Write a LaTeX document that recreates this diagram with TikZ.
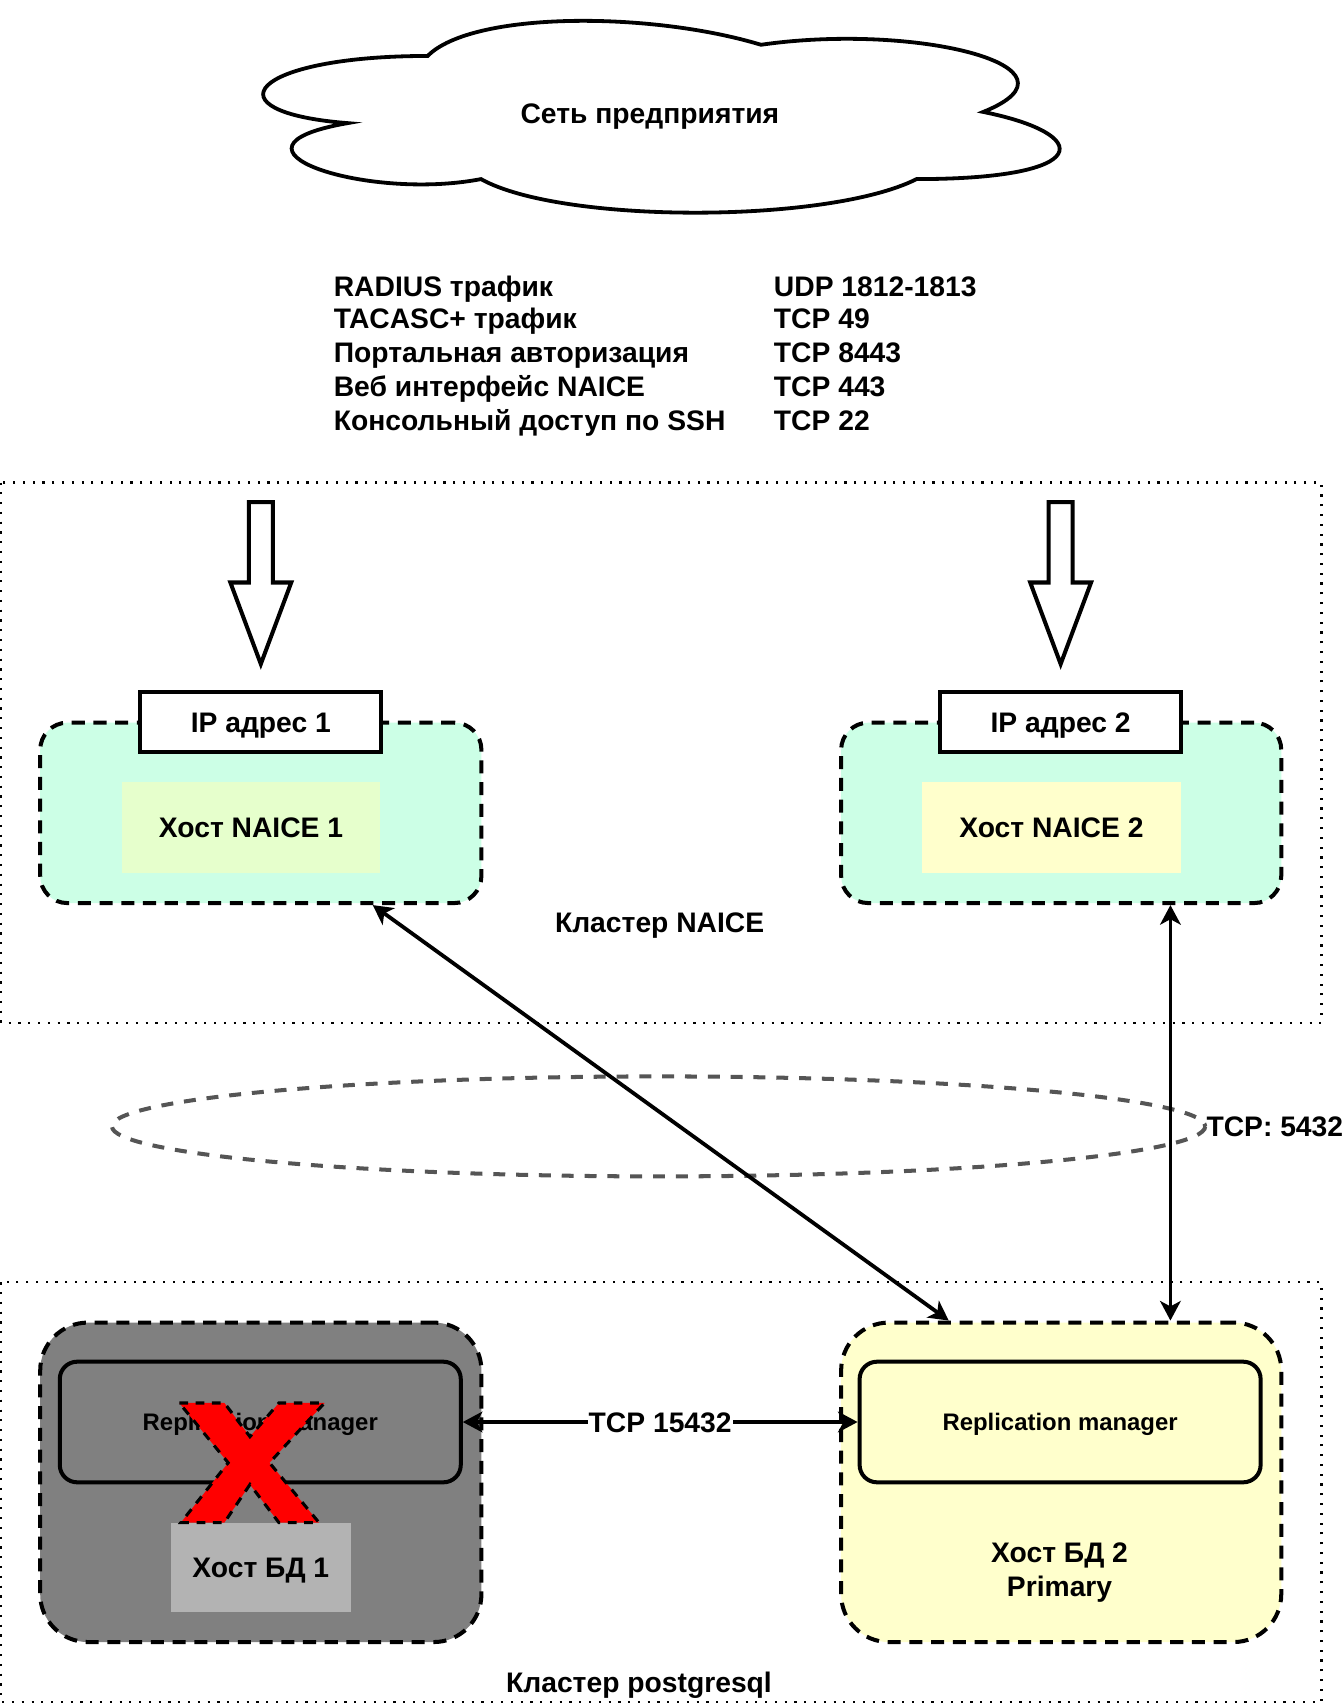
\documentclass[tikz,border=0pt]{standalone}
\usepackage{fontspec}
\setmainfont{Liberation Sans}
\usetikzlibrary{arrows.meta,calc}
\definecolor{mint}{HTML}{CCFFE6}
\definecolor{lime}{HTML}{E6FFCC}
\definecolor{cream}{HTML}{FFFFCC}
\definecolor{dgray}{HTML}{808080}
\definecolor{lgray}{HTML}{B3B3B3}
\definecolor{egray}{HTML}{555555}
\begin{document}
\begin{tikzpicture}[x=1pt,y=-1pt,
  lbl/.style={font=\fontsize{26}{31}\selectfont\bfseries, text height=18.6pt, text depth=0pt, inner sep=0pt},
  small/.style={font=\fontsize{22}{26}\selectfont\bfseries, text height=15.8pt, text depth=0pt, inner sep=0pt},
  tline/.style={font=\fontsize{26}{31}\selectfont\bfseries, inner sep=0pt, anchor=base west},
  container/.style={draw, line width=3.7pt, dash pattern=on 12pt off 8pt, inner sep=0pt},
  cluster/.style={draw, line width=2pt, dash pattern=on 2pt off 7pt},
  ipbox/.style={draw, fill=white, line width=3.7pt, minimum width=222pt, minimum height=55pt, lbl},
  hostbox/.style={minimum height=83pt, lbl},
  repbox/.style={draw, line width=3.7pt, rounded corners=16pt, minimum width=369pt, minimum height=111pt, small},
  biarr/.style={line width=3.5pt, {Stealth[length=18pt,width=19pt,inset=5pt]}-{Stealth[length=18pt,width=19pt,inset=5pt]}},
  hollow/.style={draw, fill=white, line width=3.7pt, line join=miter}
]
\useasboundingbox (0,0) rectangle (1236.7,1568);

% clusters
\draw[cluster] (1,444) rectangle (1216,941);
\draw[cluster] (1,1180) rectangle (1216,1566);

% cloud
\draw[line width=3.5pt, fill=white]
  (393.5,51.5) .. controls (229.9,51.5) and (189,103) .. (319.9,113.3)
  .. controls (189,136) and (336.2,185.4) .. (442.6,164.8)
  .. controls (516.2,206) and (761.6,206) .. (843.4,164.8)
  .. controls (1007,164.8) and (1007,123.6) .. (904.75,103)
  .. controls (1007,61.8) and (843.4,20.6) .. (700.25,41.2)
  .. controls (598,10.3) and (434.4,10.3) .. (393.5,51.5) -- cycle;
\node[lbl] (cloudtxt) at (598,104) {Сеть предприятия};

% traffic table
\node[tline] (t1) at (307,273) {RADIUS трафик};
\node[tline] (t2) at (307,302) {TACASC+ трафик};
\node[tline] (t3) at (307,334) {Портальная авторизация};
\node[tline] (t4) at (307,365) {Веб интерфейс NAICE};
\node[tline] (t5) at (307,396) {Консольный доступ по SSH};
\node[tline] (p1) at (712,273) {UDP 1812-1813};
\node[tline] (p2) at (712,302) {TCP 49};
\node[tline] (p3) at (712,334) {TCP 8443};
\node[tline] (p4) at (712,365) {TCP 443};
\node[tline] (p5) at (712,396) {TCP 22};

% hollow arrows
\draw[hollow] (229,462) -- (251,462) -- (251,536) -- (268,536) -- (240,611) -- (212,536) -- (229,536) -- cycle;
\draw[hollow] (965,462) -- (987,462) -- (987,536) -- (1004,536) -- (976,611) -- (948,536) -- (965,536) -- cycle;

% ellipse
\draw[egray, line width=3.7pt, dash pattern=on 11pt off 10pt] (606,1036.5) ellipse [x radius=503, y radius=46];

% NAICE containers
\node[container, fill=mint, rounded corners=25pt, minimum width=406pt, minimum height=166pt] (n1) at (240,748) {};
\node[container, fill=mint, rounded corners=25pt, minimum width=405pt, minimum height=166pt] (n2) at (976.5,748) {};
\node[hostbox, fill=lime, minimum width=238pt] (h1) at (231,761.5) {Хост NAICE 1};
\node[hostbox, fill=cream, minimum width=239pt] (h2) at (967.5,761.5) {Хост NAICE 2};
\node[ipbox] (ip1) at (240,664.5) {IP адрес 1};
\node[ipbox] (ip2) at (976,664.5) {IP адрес 2};
\node[lbl] (cl1) at (607,849) {Кластер NAICE};

% DB containers
\node[container, fill=dgray, rounded corners=44pt, minimum width=406pt, minimum height=294pt] (d1) at (240,1364) {};
\node[container, fill=cream, rounded corners=44pt, minimum width=405pt, minimum height=294pt] (d2) at (976.5,1364) {};
\node[repbox, fill=dgray] (r1) at (239.5,1308.5) {Replication manager};
\node[repbox, fill=cream] (r2) at (975.5,1308.5) {Replication manager};
\node[lbl, fill=lgray, minimum width=166pt, minimum height=82pt] (hd1) at (240,1442) {Хост БД 1};
\node[lbl, align=center, font=\fontsize{26}{32}\selectfont\bfseries, text height=, text depth=] (hd2) at (975,1447) {Хост БД 2\\Primary};
\draw[fill=red, draw=black, line width=2.8pt, dash pattern=on 8pt off 7pt, line join=miter]
  (165,1291) -- (206.5,1291) -- (230,1322) -- (256.6,1291) -- (298.6,1291) -- (248,1346)
  -- (293.5,1401) -- (256.6,1401) -- (230,1366) -- (206.5,1401) -- (166.5,1401) -- (210,1346) -- cycle;
\node[lbl] (cl2) at (588,1548) {Кластер postgresql};

% connectors
\draw[biarr] ([xshift=103pt]n1.south) -- ([xshift=-103.5pt]d2.north);
\draw[biarr] ([xshift=100.5pt]n2.south) -- ([xshift=100.5pt]d2.north);
\node[lbl, anchor=west] (tcp5432) at (1110,1036.5) {TCP: 5432};
\draw[biarr] (r1.east) -- node[lbl, fill=white, inner sep=1pt] (tcp15432) {TCP 15432} (r2.west);
\end{tikzpicture}
\end{document}
